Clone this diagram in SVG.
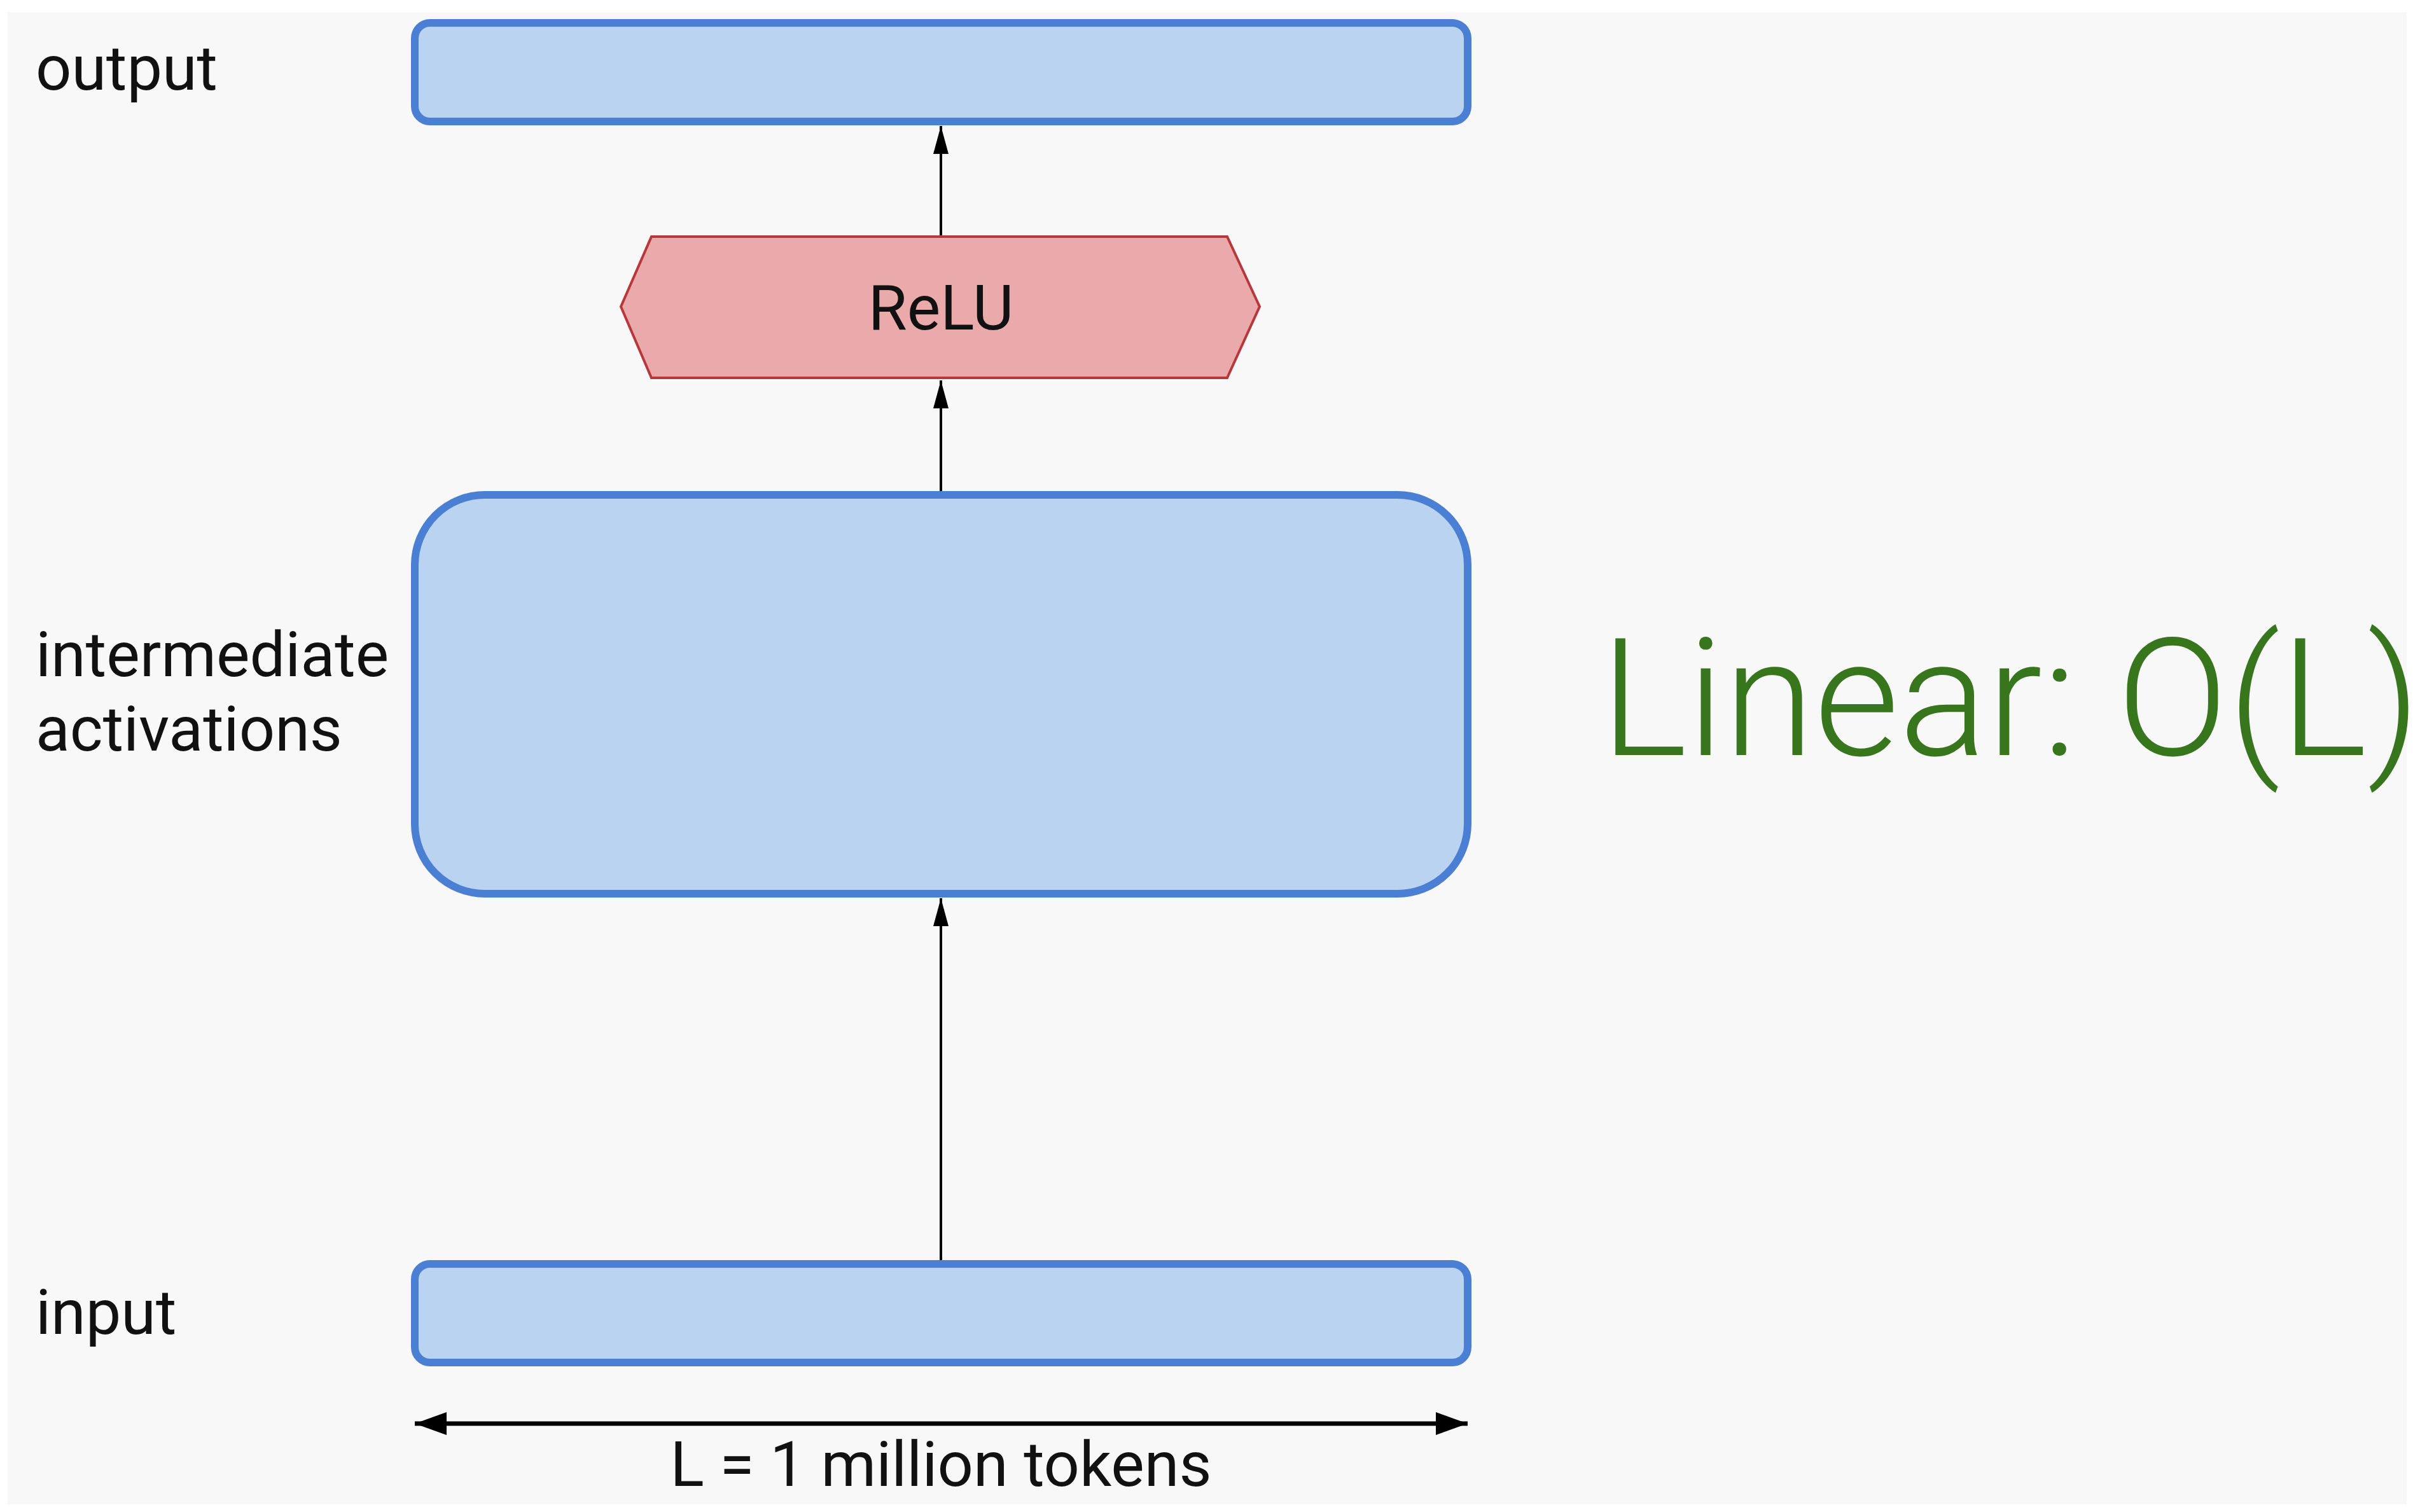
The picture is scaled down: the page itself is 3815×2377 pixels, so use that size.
<svg xmlns="http://www.w3.org/2000/svg" width="3815" height="2377" viewBox="0 0 3815 2377">
<style>
.box{fill:#b9d3f1;stroke:#4a7fd4;stroke-width:12}
.lbl{font-family:Roboto,"Liberation Sans",sans-serif;font-size:99px;fill:#111}
.conn{stroke:#000;stroke-width:4;fill:none}
</style>
<defs>
<marker id="arr" markerUnits="userSpaceOnUse" markerWidth="44" markerHeight="24" viewBox="0 0 44 24" refX="44" refY="12" orient="auto-start-reverse">
<path d="M0,0 L44,12 L0,24 z" fill="#000"/>
</marker>
<marker id="arr2" markerUnits="userSpaceOnUse" markerWidth="50" markerHeight="36" viewBox="0 0 50 36" refX="50" refY="18" orient="auto-start-reverse">
<path d="M0,0 L50,18 L0,36 z" fill="#000"/>
</marker>
</defs>
<rect x="0" y="0" width="3815" height="2377" fill="#ffffff"/>
<rect x="12" y="19" width="3771" height="2346" fill="#f8f8f8"/>

<g id="connectors">
<line class="conn" x1="1479" y1="1985" x2="1479" y2="1412" marker-end="url(#arr)"/>
<line class="conn" x1="1479" y1="776" x2="1479" y2="598" marker-end="url(#arr)"/>
<line class="conn" x1="1479" y1="372" x2="1479" y2="198" marker-end="url(#arr)"/>
<line x1="652" y1="2238" x2="2307" y2="2238" stroke="#000" stroke-width="7" marker-start="url(#arr2)" marker-end="url(#arr2)"/>
</g>

<g id="output">
<rect class="box" x="652" y="36" width="1655" height="155" rx="24"/>
<text class="lbl" x="56" y="141">output</text>
</g>

<g id="relu">
<polygon points="976,482 1024,372 1929,372 1980,482 1929,594 1024,594" fill="#eaa9aa" stroke="#b7373a" stroke-width="4"/>
<text class="lbl" x="1479" y="518" text-anchor="middle" font-size="100">ReLU</text>
</g>

<g id="intermediate">
<rect class="box" x="652" y="778" width="1655" height="627" rx="110"/>
<text class="lbl" x="56" y="1063">intermediate</text>
<text class="lbl" x="56" y="1180">activations</text>
</g>

<g id="input">
<rect class="box" x="652" y="1987" width="1655" height="155" rx="24"/>
<text class="lbl" x="56" y="2097">input</text>
</g>

<g id="length-label">
<text class="lbl" x="1479" y="2336" text-anchor="middle">L = 1 million tokens</text>
</g>

<g id="complexity">
<text x="2516" y="1187" font-family="Roboto,'Liberation Sans',sans-serif" font-weight="300" font-size="258" fill="#38761d">Linear: O(L)</text>
</g>
</svg>
